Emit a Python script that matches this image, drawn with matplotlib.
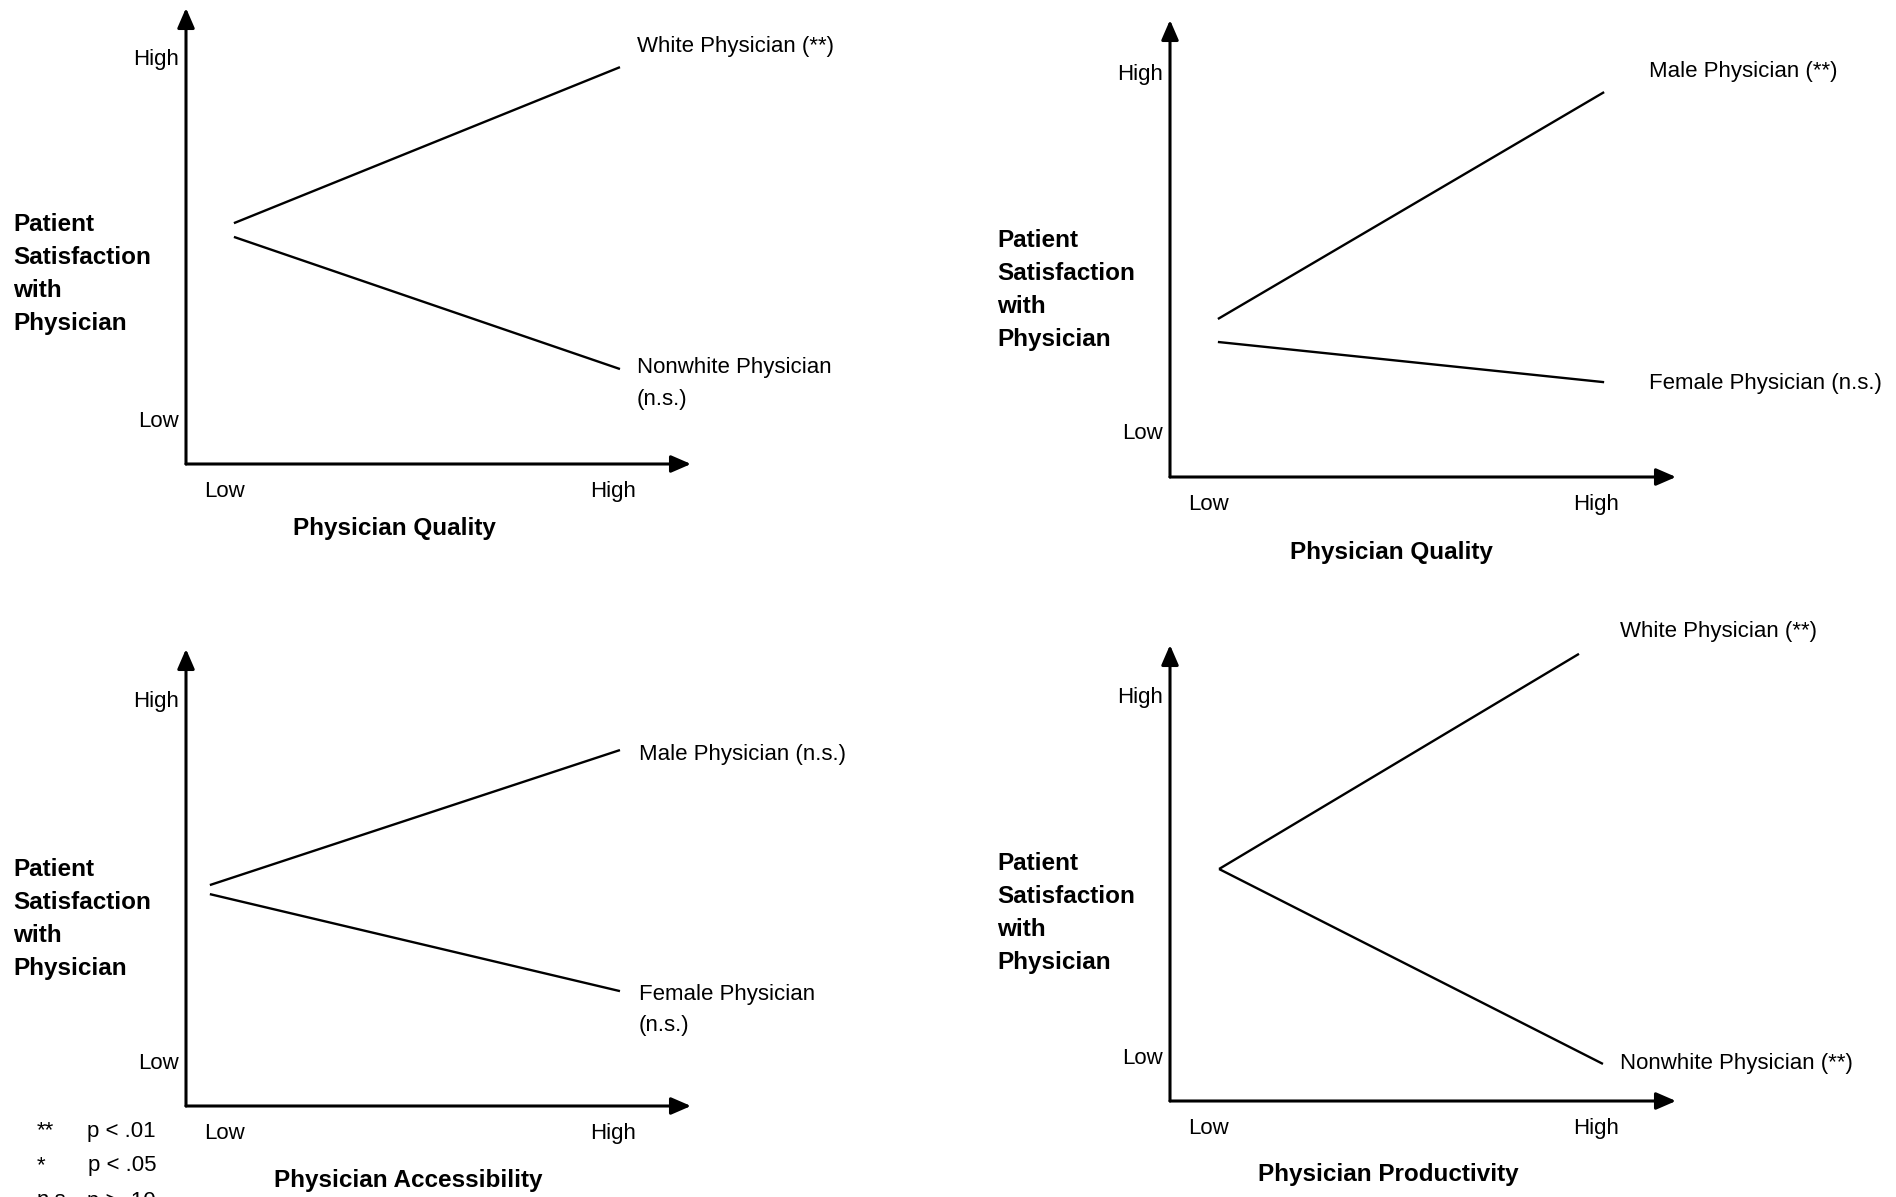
import matplotlib
matplotlib.use('Agg')
import matplotlib.pyplot as plt

W, H, DPI = 1896, 1197, 100
plt.rcParams['font.family'] = ['Liberation Sans Narrow', 'Liberation Sans', 'DejaVu Sans']

# ---------------- data (Low = 0, High = 1 on both scales) ----------------
level_labels = ['Low', 'High']
y_title = 'Patient\nSatisfaction\nwith\nPhysician'

p1_xlabel = 'Physician Quality'
p1_x = [0.023, 1.018]
p1_white = [0.541, 0.972]
p1_nonwhite = [0.503, 0.138]
p1_names = ['White Physician (**)', 'Nonwhite Physician\n(n.s.)']

p2_xlabel = 'Physician Quality'
p2_x = [0.023, 1.021]
p2_male = [0.312, 0.944]
p2_female = [0.248, 0.136]
p2_names = ['Male Physician (**)', 'Female Physician (n.s.)']

p3_xlabel = 'Physician Accessibility'
p3_x = [-0.039, 1.018]
p3_male = [0.486, 0.859]
p3_female = [0.461, 0.193]
p3_names = ['Male Physician (n.s.)', 'Female Physician\n(n.s.)']

p4_xlabel = 'Physician Productivity'
p4_white_x = [0.026, 0.956]
p4_white = [0.518, 1.114]
p4_nonwhite_x = [0.026, 1.018]
p4_nonwhite = [0.518, -0.022]
p4_names = ['White Physician (**)', 'Nonwhite Physician (**)']

footnote_sym = ['**', '*', 'n.s.']
footnote_p = ['p < .01', 'p < .05', 'p > .10']

# ---------------- layout (pixels) ----------------
# corner_x, corner_y, tip_x, tip_y, xlow_px, xhigh_px, yhigh_px, ylow_px
layouts = [
    (186, 464, 691, 8, 225, 613, 57, 419),
    (1170, 477, 1676, 20, 1209, 1596, 72, 431),
    (186, 1106, 691, 649, 225, 613, 699, 1061),
    (1170, 1101, 1676, 645, 1209, 1596, 695, 1056),
]
series = [
    [(p1_x, p1_white), (p1_x, p1_nonwhite)],
    [(p2_x, p2_male), (p2_x, p2_female)],
    [(p3_x, p3_male), (p3_x, p3_female)],
    [(p4_white_x, p4_white), (p4_nonwhite_x, p4_nonwhite)],
]
names = [p1_names, p2_names, p3_names, p4_names]
name_pos = [
    [(1.062, 1.028), (1.062, 0.098)],
    [(1.137, 1.000), (1.137, 0.131)],
    [(1.067, 0.848), (1.067, 0.141)],
    [(1.062, 1.177), (1.062, -0.022)],
]
xlabels = [p1_xlabel, p2_xlabel, p3_xlabel, p4_xlabel]
xlabel_px = [(394, 529), (1391, 552), (408, 1180), (1388, 1175)]
ytitle_px = [(13, 274), (997, 290), (13, 919), (997, 913)]

FS = 16
FSB = 17.5

fig = plt.figure(figsize=(W / DPI, H / DPI), dpi=DPI)


def fx(px):
    return px / W


def fy(py):
    return 1 - py / H


for lay, ser, nm, npos, xl, xlp, ytp in zip(layouts, series, names, name_pos,
                                            xlabels, xlabel_px, ytitle_px):
    cx, cy, tx, ty, xl0, xl1, yh, yl = lay
    ax = fig.add_axes([fx(cx), fy(cy), (tx - cx) / W, (cy - ty) / H])
    ax.set_xlim((cx - xl0) / (xl1 - xl0), (tx - xl0) / (xl1 - xl0))
    ax.set_ylim((yl - cy) / (yl - yh), (yl - ty) / (yl - yh))
    for s in ax.spines.values():
        s.set_visible(False)
    ax.patch.set_visible(False)
    arrow = dict(arrowstyle='-|>,head_length=0.6,head_width=0.26', color='k',
                 lw=2.2, shrinkA=0, shrinkB=0, mutation_scale=20)
    ax.annotate('', xy=(1, 0), xytext=(0, 0), xycoords='axes fraction',
                arrowprops=arrow)
    ax.annotate('', xy=(0, 1), xytext=(0, 0), xycoords='axes fraction',
                arrowprops=arrow)
    for xs, ys in ser:
        ax.plot(xs, ys, color='black', lw=1.7, solid_capstyle='butt')
    ax.set_xticks([0, 1])
    ax.set_xticklabels(level_labels, fontsize=FS)
    ax.set_yticks([0, 1])
    ax.set_yticklabels(level_labels, fontsize=FS)
    ax.tick_params(axis='x', length=0, pad=12)
    ax.tick_params(axis='y', length=0, pad=5)
    for (px_, py_), t in zip(npos, nm):
        ax.text(px_, py_, t, fontsize=FS, ha='left', va='center',
                linespacing=1.65, clip_on=False)
    fig.text(fx(xlp[0]), fy(xlp[1]), xl, fontsize=FSB, fontweight='bold',
             ha='center', va='center')
    fig.text(fx(ytp[0]), fy(ytp[1]), y_title, fontsize=FSB, fontweight='bold',
             ha='left', va='center', linespacing=1.54)

for i, (s, p) in enumerate(zip(footnote_sym, footnote_p)):
    yy = 1131 + 35 * i
    fig.text(fx(37), fy(yy), s, fontsize=FS, ha='left', va='center')
    fig.text(fx(156), fy(yy), p, fontsize=FS, ha='right', va='center')

fig.savefig('out.png', dpi=DPI)
